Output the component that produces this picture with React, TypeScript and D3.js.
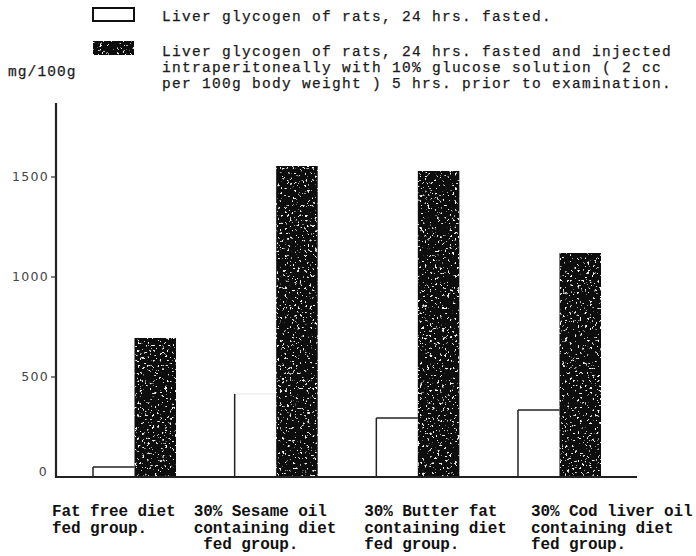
import React from "react";
import * as d3 from "d3";

const categories = ["Fat free", "Sesame oil", "Butter fat", "Cod liver oil"];
const categoryLabelLines = [
  ["Fat free diet", "fed group."],
  ["30% Sesame oil", "containing diet", " fed group."],
  ["30% Butter fat", "containing diet", "fed group."],
  ["30% Cod liver oil", "containing diet", "fed group."],
];
const seriesKeys = ["fasted", "injected"];
const fastedValues = [50, 415, 295, 335];
const injectedValues = [695, 1555, 1530, 1120];
const yTicks = [0, 500, 1000, 1500];
const yTickLabels = ["0", "500", "1000", "1500"];
const legendFastedLines = ["Liver glycogen of rats, 24 hrs. fasted."];
const legendInjectedLines = [
  "Liver glycogen of rats, 24 hrs. fasted and injected",
  "intraperitoneally with 10% glucose solution ( 2 cc",
  "per 100g body weight ) 5 hrs. prior to examination.",
];
const yUnit = "mg/100g";

const W = 696;
const H = 556;
const axisX = 56;
const baseY = 477;
const topY = 103;
const labelOffsets = [-41, -41, -12, 13];

export default function App() {
  const y = d3.scaleLinear().domain([0, 1870]).range([baseY, topY]);
  const x = d3
    .scaleBand<string>()
    .domain(categories)
    .range([93, 601])
    .paddingInner(0.414)
    .paddingOuter(0);
  const sub = d3.scaleBand<string>().domain(seriesKeys).range([0, x.bandwidth()]);
  const bw = sub.bandwidth();
  const mono = "'Liberation Mono', 'DejaVu Sans Mono', monospace";

  return (
    <svg
      width={W}
      height={H}
      viewBox={`0 0 ${W} ${H}`}
      style={{ position: "absolute", left: 0, top: 0, background: "#fff" }}
    >
      <defs>
        <filter id="speckle" x="0" y="0" width="1" height="1">
          <feTurbulence type="fractalNoise" baseFrequency="0.4" numOctaves="2" seed="7" result="noise" />
          <feColorMatrix
            in="noise"
            type="matrix"
            values="0 0 0 0 0.9  0 0 0 0 0.9  0 0 0 0 0.9  14 0 0 0 -9.0"
            result="specks"
          />
          <feComposite in="specks" in2="SourceGraphic" operator="in" result="s2" />
          <feMerge>
            <feMergeNode in="SourceGraphic" />
            <feMergeNode in="s2" />
          </feMerge>
        </filter>
      </defs>
      <rect x={0} y={0} width={W} height={H} fill="#fff" />

      {/* Legend */}
      <rect x={93} y={8} width={41} height={13} fill="#fff" stroke="#111" strokeWidth={2} />
      <rect x={93} y={41} width={41} height={14} fill="#111" filter="url(#speckle)" />
      <g fontFamily={mono} fontSize={14.5} fill="#1a1a1a" letterSpacing={1.3} stroke="#1a1a1a" strokeWidth={0.25}>
        {legendFastedLines.map((t, i) => (
          <text key={"lf" + i} x={162} y={21 + i * 16}>{t}</text>
        ))}
        {legendInjectedLines.map((t, i) => (
          <text key={"li" + i} x={162} y={56 + i * 16}>{t}</text>
        ))}
        <text x={8} y={76} letterSpacing={1.1}>{yUnit}</text>
      </g>

      {/* Y axis */}
      <line x1={axisX} x2={axisX} y1={topY} y2={baseY + 1} stroke="#222" strokeWidth={2.2} />
      {yTicks.map((v, i) => (
        <g key={"t" + v}>
          {v > 0 && (
            <line x1={axisX - 5} x2={axisX} y1={y(v)} y2={y(v)} stroke="#333" strokeWidth={1.2} />
          )}
          <text
            x={v > 0 ? axisX - 7 : axisX - 8}
            y={y(v) + (v > 0 ? 4 : -1)}
            textAnchor="end"
            fontFamily="'DejaVu Sans', sans-serif"
            fontSize={12.5}
            letterSpacing={1.3}
            fill="#444"
          >
            {yTickLabels[i]}
          </text>
        </g>
      ))}

      {/* Bars */}
      {categories.map((c, i) => {
        const x0 = (x(c) ?? 0) + (sub("fasted") ?? 0);
        const x1 = (x(c) ?? 0) + (sub("injected") ?? 0);
        const yf = y(fastedValues[i]);
        const yi = y(injectedValues[i]);
        return (
          <g key={c}>
            <rect x={x1} y={yi} width={bw} height={baseY - yi} fill="#0a0a0a" filter="url(#speckle)" />
            <line x1={x0} x2={x0} y1={yf} y2={baseY} stroke="#222" strokeWidth={1.5} />
            <line
              x1={x0}
              x2={x1}
              y1={yf}
              y2={yf}
              stroke="#222"
              strokeWidth={1.4}
              strokeOpacity={i === 1 ? 0.08 : 1}
            />
          </g>
        );
      })}

      {/* Baseline */}
      <line x1={axisX - 1} x2={637} y1={baseY} y2={baseY} stroke="#222" strokeWidth={2.2} />

      {/* Category labels */}
      <g fontFamily={mono} fontSize={16} fontWeight="bold" fill="#111" letterSpacing={-0.1}>
        {categories.map((c, i) =>
          categoryLabelLines[i].map((line, j) => (
            <text
              key={c + j}
              x={(x(c) ?? 0) + labelOffsets[i]}
              y={516 + j * 16.5}
              style={{ whiteSpace: "pre" }}
            >
              {line}
            </text>
          ))
        )}
      </g>
    </svg>
  );
}
